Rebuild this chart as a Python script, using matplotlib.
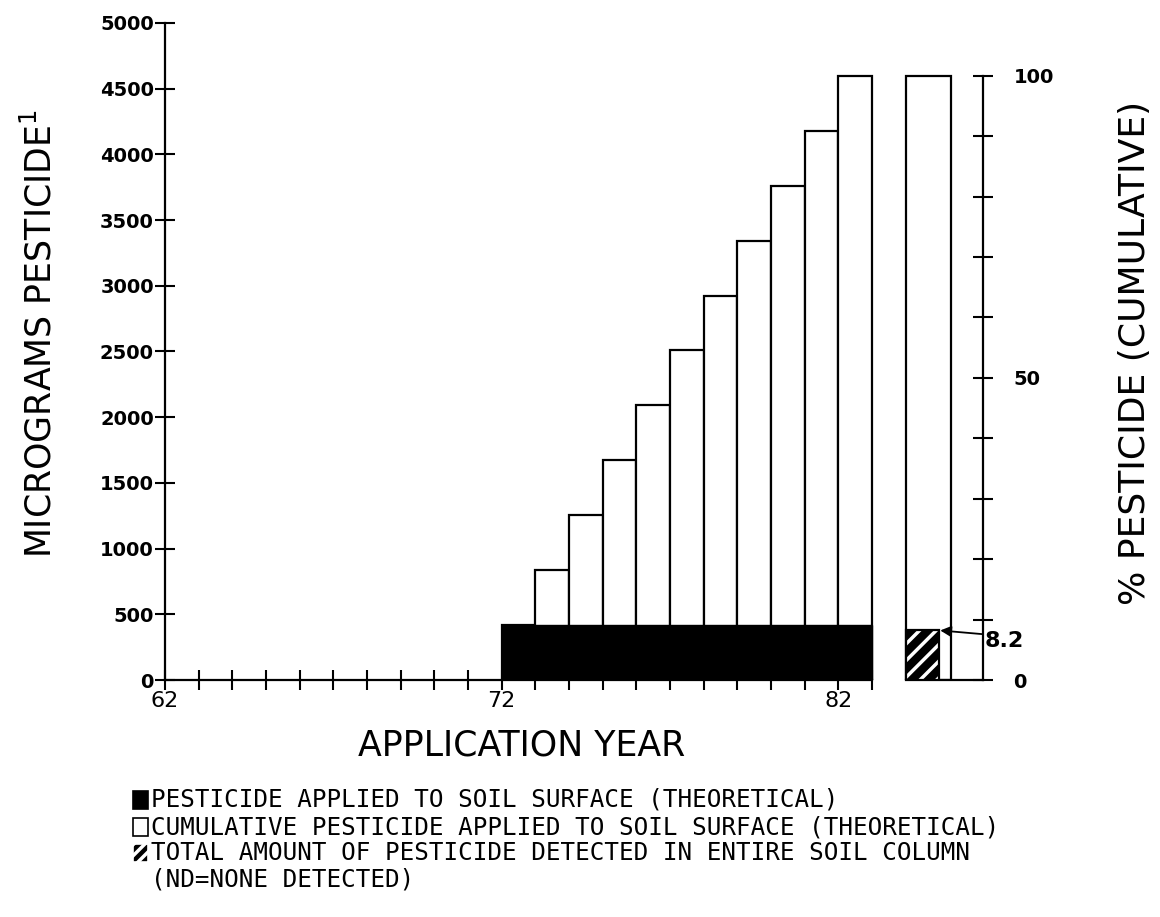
import numpy as np
import matplotlib
matplotlib.use("Agg")
import matplotlib.pyplot as plt
from matplotlib.patches import Rectangle

# data
years = np.arange(72, 83)                     # application years 1972..1982
annual = np.full(len(years), 418.0)           # micrograms applied each year
cumulative = np.cumsum(annual)                # cumulative micrograms
detected_pct = 8.2                            # % of total detected in soil column
left_ticks = np.arange(0, 5001, 500)
year_ticks = [62, 72, 82]
pct_ticks = np.arange(0, 101, 10)
pct_labels = ["0", "", "", "", "", "50", "", "", "", "", "100"]
legend_labels = [
    "PESTICIDE APPLIED TO SOIL SURFACE (THEORETICAL)",
    "CUMULATIVE PESTICIDE APPLIED TO SOIL SURFACE (THEORETICAL)",
    "TOTAL AMOUNT OF PESTICIDE DETECTED IN ENTIRE SOIL COLUMN",
]
legend_note = "(ND=NONE DETECTED)"

W, H = 1160, 917
plt.rcParams["hatch.linewidth"] = 2.5
fig = plt.figure(figsize=(W / 100, H / 100), dpi=100)
ax = fig.add_axes([165 / W, 1 - 680 / H, (983 - 165) / W, (680 - 23) / H])

xmax = 86.3
ax.set_xlim(62, xmax)
ax.set_ylim(0, 5000)

# cumulative (white) then annual (black) bars
ax.bar(years, cumulative, width=1, align="edge", color="white",
       edgecolor="black", linewidth=1.6, zorder=2)
ax.bar(years, annual, width=1, align="edge", color="black",
       edgecolor="black", linewidth=1.0, zorder=3)

for s in ["top", "right"]:
    ax.spines[s].set_visible(False)
ax.spines["left"].set_bounds(0, 5000)
ax.spines["bottom"].set_bounds(62, 83)
ax.spines["left"].set_linewidth(1.6)
ax.spines["bottom"].set_linewidth(1.6)

ax.set_yticks(left_ticks)
ax.set_yticklabels([str(v) for v in left_ticks])
ax.set_xticks(year_ticks)
ax.set_xticklabels([str(v) for v in year_ticks])
ax.set_xticks(np.arange(62, 84), minor=True)
ax.tick_params(axis="both", which="both", direction="inout", length=14,
               width=1.5, labelsize=14)
ax.tick_params(axis="x", which="major", pad=1, labelsize=16)
ax.tick_params(axis="y", which="major", pad=1)
for lab in ax.get_yticklabels():
    lab.set_fontweight("bold")

# right-hand percentage scale: 100 % equals the final cumulative amount
ax2 = ax.twinx()
ax2.set_ylim(0, 5000 / cumulative[-1] * 100)
ax2.set_xlim(62, xmax)
ax2.bar(84.0, 100, width=1.36, align="edge", color="white",
        edgecolor="black", linewidth=1.6, zorder=2)
ax2.bar(84.0, detected_pct, width=0.98, align="edge", color="black",
        edgecolor="white", hatch="//", linewidth=0, zorder=3)
ax2.bar(84.0, detected_pct, width=0.98, align="edge", color="none",
        edgecolor="black", linewidth=1.6, zorder=4)

for s in ["top", "left"]:
    ax2.spines[s].set_visible(False)
ax2.spines["right"].set_bounds(0, 100)
ax2.spines["bottom"].set_bounds(84.0, xmax)
ax2.spines["right"].set_linewidth(1.6)
ax2.spines["bottom"].set_linewidth(1.6)
ax2.set_yticks(pct_ticks)
ax2.set_yticklabels(pct_labels)
ax2.tick_params(axis="y", direction="inout", length=14, width=1.5,
                labelsize=14, pad=15)
for lab in ax2.get_yticklabels():
    lab.set_fontweight("bold")

ax2.annotate(f"{detected_pct}", xy=(84.98 + 0.05, detected_pct),
             xytext=(xmax + 0.05, detected_pct - 1.8), fontsize=16,
             fontweight="bold", ha="left", va="center",
             arrowprops=dict(arrowstyle="-|>", color="black", lw=1.3,
                             shrinkA=0, shrinkB=0, relpos=(0, 0.85),
                             mutation_scale=16))

# axis titles
fig.text(522 / W, 1 - 745 / H, "APPLICATION YEAR", fontsize=25,
         ha="center", va="center")
fig.text(40 / W, 1 - 333 / H, "MICROGRAMS PESTICIDE$^{\\mathregular{1}}$",
         fontsize=25, rotation=90, ha="center", va="center")
fig.text(1135 / W, 1 - 353 / H, "% PESTICIDE (CUMULATIVE)", fontsize=26,
         rotation=90, ha="center", va="center")

# legend drawn by hand
leg_y = [800, 827, 853]
styles = [dict(facecolor="black", edgecolor="black"),
          dict(facecolor="white", edgecolor="black"),
          dict(facecolor="black", edgecolor="white", hatch="///")]
for y, lab, st in zip(leg_y, legend_labels, styles):
    fig.patches.append(Rectangle((133 / W, 1 - (y + 9) / H), 15 / W, 18 / H,
                                 transform=fig.transFigure, linewidth=1.2,
                                 **st))
    fig.text(151 / W, 1 - y / H, lab, fontsize=17.5, family="DejaVu Sans Mono",
             ha="left", va="center")
fig.text(151 / W, 1 - 880 / H, legend_note, fontsize=17.5,
         family="DejaVu Sans Mono", ha="left", va="center")

fig.savefig("out.png", dpi=100)
